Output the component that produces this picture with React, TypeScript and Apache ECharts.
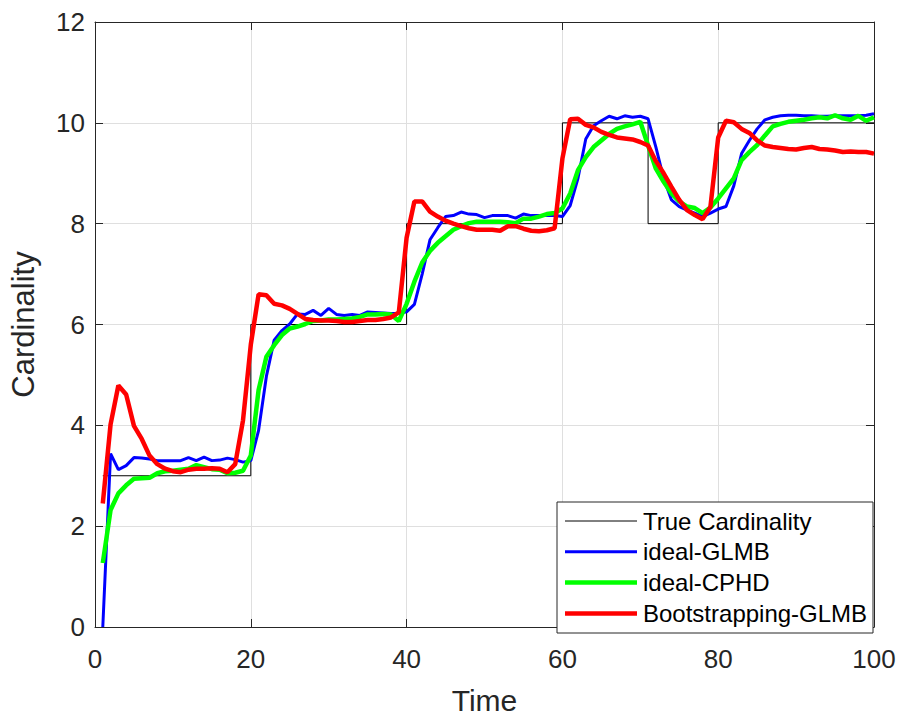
import React, { useEffect, useRef } from "react";
import * as echarts from "echarts";

// Time steps 1..100
const timeSteps: number[] = Array.from({ length: 100 }, (_, i) => i + 1);

// True cardinality: change times and levels (stairs)
const trueChangeTimes = [1, 20, 40, 60, 71, 80, 100];
const trueLevels = [3, 6, 8, 10, 8, 10, 10];

const idealGLMB = [
  0.0, 3.44, 3.12, 3.2, 3.36, 3.35, 3.33, 3.3, 3.3, 3.3,
  3.3, 3.36, 3.3, 3.37, 3.3, 3.31, 3.35, 3.32, 3.27, 3.3,
  3.9, 4.97, 5.69, 5.88, 6.01, 6.21, 6.2, 6.28, 6.18, 6.32,
  6.2, 6.18, 6.2, 6.18, 6.25, 6.24, 6.23, 6.22, 6.22, 6.25,
  6.4, 7.0, 7.68, 7.92, 8.14, 8.16, 8.23, 8.19, 8.18, 8.12,
  8.16, 8.16, 8.16, 8.11, 8.19, 8.16, 8.16, 8.16, 8.16, 8.14,
  8.36, 8.9, 9.68, 9.94, 10.04, 10.13, 10.08, 10.14, 10.11, 10.13,
  10.08, 9.52, 8.9, 8.47, 8.34, 8.27, 8.21, 8.14, 8.21, 8.29,
  8.34, 8.75, 9.39, 9.65, 9.88, 10.06, 10.11, 10.14, 10.15, 10.15,
  10.14, 10.14, 10.13, 10.13, 10.14, 10.14, 10.14, 10.14, 10.15, 10.18,
];

const idealCPHD = [
  1.27, 2.32, 2.65, 2.81, 2.94, 2.95, 2.96, 3.05, 3.09, 3.1,
  3.12, 3.14, 3.21, 3.17, 3.13, 3.12, 3.05, 3.06, 3.1, 3.4,
  4.7, 5.36, 5.59, 5.79, 5.92, 5.96, 6.01, 6.07, 6.08, 6.1,
  6.1, 6.11, 6.12, 6.15, 6.2, 6.2, 6.21, 6.2, 6.07, 6.41,
  6.85, 7.23, 7.46, 7.62, 7.75, 7.88, 7.95, 8.01, 8.04, 8.04,
  8.04, 8.04, 8.03, 8.01, 8.1, 8.1, 8.14, 8.19, 8.21, 8.3,
  8.6, 9.06, 9.32, 9.52, 9.65, 9.78, 9.88, 9.93, 9.97, 10.02,
  9.55, 9.09, 8.83, 8.6, 8.44, 8.34, 8.31, 8.21, 8.32, 8.5,
  8.7, 8.9, 9.26, 9.42, 9.56, 9.75, 9.93, 9.98, 10.02, 10.04,
  10.06, 10.09, 10.11, 10.09, 10.15, 10.09, 10.06, 10.14, 10.04, 10.11,
];

const bootstrappingGLMB = [
  2.45, 4.02, 4.79, 4.61, 3.99, 3.73, 3.4, 3.23, 3.14, 3.09,
  3.07, 3.12, 3.14, 3.14, 3.15, 3.14, 3.07, 3.23, 4.1, 5.6,
  6.6, 6.58, 6.41, 6.38, 6.31, 6.21, 6.11, 6.09, 6.08, 6.08,
  6.07, 6.05, 6.05, 6.07, 6.09, 6.09, 6.11, 6.14, 6.24, 7.72,
  8.44, 8.44, 8.24, 8.14, 8.06, 8.0, 7.95, 7.91, 7.88, 7.88,
  7.88, 7.86, 7.95, 7.95, 7.9, 7.86, 7.85, 7.87, 7.91, 9.29,
  10.07, 10.08, 9.96, 9.91, 9.82, 9.76, 9.71, 9.69, 9.67, 9.62,
  9.55, 9.24, 9.0, 8.73, 8.47, 8.27, 8.17, 8.09, 8.33, 9.71,
  10.04, 10.01, 9.88, 9.8, 9.65, 9.55, 9.52, 9.5, 9.48, 9.47,
  9.5, 9.52, 9.48, 9.47, 9.45, 9.42, 9.43, 9.42, 9.42, 9.39,
];

const xTicks = { min: 0, max: 100, interval: 20 };
const yTicks = { min: 0, max: 12, interval: 2 };

const legendNames = ["True Cardinality", "ideal-GLMB", "ideal-CPHD", "Bootstrapping-GLMB"];
const seriesColors = ["#000000", "#0000ff", "#00ff00", "#ff0000"];
const seriesWidths = [1, 3, 4.5, 4.5];

const FONT = "'Liberation Sans', Arial, Helvetica, sans-serif";
const AX = "#262626";

export default function App() {
  const ref = useRef<HTMLDivElement>(null);
  useEffect(() => {
    if (!ref.current) return;
    const chart = echarts.init(ref.current, undefined, { renderer: "svg" });
    const pair = (arr: number[]) => arr.map((v, i) => [timeSteps[i], v]);
    const truePairs = trueChangeTimes.map((t, i) => [t, trueLevels[i]]);

    const legendX = 557, legendY = 502, legendW = 316, legendH = 131;
    const rowY = [521, 551.8, 582.6, 613.4];
    const legendElements: any[] = [
      {
        type: "rect",
        z: 100,
        shape: { x: legendX, y: legendY, width: legendW, height: legendH },
        style: { fill: "#ffffff", stroke: AX, lineWidth: 1 },
      },
    ];
    legendNames.forEach((name, i) => {
      legendElements.push({
        type: "line",
        z: 101,
        shape: { x1: 565, y1: rowY[i], x2: 637, y2: rowY[i] },
        style: { stroke: seriesColors[i], lineWidth: seriesWidths[i] },
      });
      legendElements.push({
        type: "text",
        z: 101,
        x: 643,
        y: rowY[i],
        style: {
          text: name,
          fontSize: 24,
          fontFamily: FONT,
          fill: "#000000",
          verticalAlign: "middle",
          align: "left",
        },
      });
    });

    const baseAxisCommon = {
      axisLine: { show: true, onZero: false, lineStyle: { color: AX, width: 1 } },
      axisTick: { show: true, inside: true, length: 8, lineStyle: { color: AX, width: 1 } },
    };

    chart.setOption({
      animation: false,
      backgroundColor: "#ffffff",
      grid: { left: 93, right: 27, top: 22, bottom: 87, containLabel: false },
      xAxis: [
        {
          type: "value",
          ...xTicks,
          position: "bottom",
          ...baseAxisCommon,
          axisLabel: { fontSize: 26, fontFamily: FONT, color: AX, margin: 19 },
          splitLine: { show: true, lineStyle: { color: "#dfdfdf", width: 1 } },
          name: "Time",
          nameLocation: "middle",
          nameGap: 58,
          nameTextStyle: { fontSize: 30, fontFamily: FONT, color: AX },
        },
        {
          type: "value",
          ...xTicks,
          position: "top",
          ...baseAxisCommon,
          axisLabel: { show: false },
          splitLine: { show: false },
        },
      ],
      yAxis: [
        {
          type: "value",
          ...yTicks,
          position: "left",
          ...baseAxisCommon,
          axisLabel: { fontSize: 26, fontFamily: FONT, color: AX, margin: 10 },
          splitLine: { show: true, lineStyle: { color: "#dfdfdf", width: 1 } },
          name: "Cardinality",
          nameLocation: "middle",
          nameGap: 56,
          nameTextStyle: { fontSize: 31, fontFamily: FONT, color: AX },
        },
        {
          type: "value",
          ...yTicks,
          position: "right",
          ...baseAxisCommon,
          axisLabel: { show: false },
          splitLine: { show: false },
        },
      ],
      series: [
        {
          name: legendNames[0],
          type: "line",
          step: "end",
          data: truePairs,
          symbol: "none",
          lineStyle: { color: seriesColors[0], width: seriesWidths[0] },
          z: 2,
        },
        {
          name: legendNames[1],
          type: "line",
          data: pair(idealGLMB),
          symbol: "none",
          lineStyle: { color: seriesColors[1], width: seriesWidths[1] },
          z: 3,
        },
        {
          name: legendNames[2],
          type: "line",
          data: pair(idealCPHD),
          symbol: "none",
          lineStyle: { color: seriesColors[2], width: seriesWidths[2] },
          z: 4,
        },
        {
          name: legendNames[3],
          type: "line",
          data: pair(bootstrappingGLMB),
          symbol: "none",
          lineStyle: { color: seriesColors[3], width: seriesWidths[3] },
          z: 5,
        },
      ],
      graphic: legendElements,
    });
    return () => chart.dispose();
  }, []);
  return (
    <div
      ref={ref}
      style={{ position: "fixed", left: 0, top: 0, width: 901, height: 720, background: "#fff" }}
    />
  );
}
